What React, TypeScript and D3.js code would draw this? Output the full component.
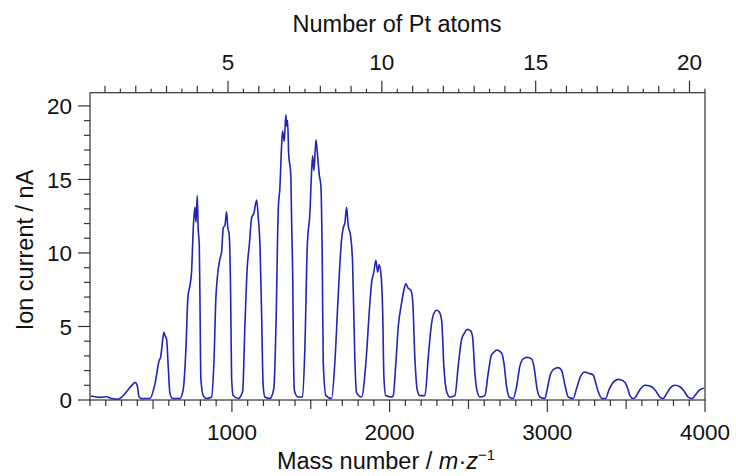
import React from 'react';
import * as d3 from 'd3';

const massTicks = [1000, 2000, 3000, 4000];
const currentTicks = [0, 5, 10, 15, 20];
const atomTicks = [5, 10, 15, 20];
const PT_MASS = 195.08;

// [mass number, ion current (nA)]
const spectrum: [number, number][] = [
  [104, 0.27], [163, 0.18], [205, 0.22], [237, 0.1], [279, 0.05], [301, 0.2], [342, 0.7], [374, 1.1],
  [385, 1.2], [399, 1.0], [412, 0.2], [427, 0.1], [480, 0.1], [512, 1.1], [539, 2.7], [548, 2.9],
  [561, 4.1], [569, 4.6], [575, 4.4], [586, 4.1], [596, 2.3], [607, 0.45], [624, 0.1], [670, 0.1],
  [691, 0.7], [708, 3.4], [721, 7.0], [734, 7.8], [744, 8.7], [755, 11.7], [765, 13.1], [772, 12.1],
  [780, 13.9], [786, 11.7], [793, 10.5], [797, 7.1], [803, 1.5], [818, 0.3], [840, 0.1], [871, 0.2],
  [886, 2.6], [899, 7.1], [924, 9.6], [935, 10.1], [945, 11.7], [956, 11.9], [966, 12.8], [973, 11.8],
  [983, 11.2], [992, 7.1], [998, 1.5], [1008, 0.3], [1040, 0.1], [1068, 0.6], [1082, 4.9], [1097, 9.0],
  [1110, 10.5], [1125, 12.4], [1139, 12.7], [1157, 13.6], [1167, 12.4], [1178, 10.5], [1188, 6.0],
  [1198, 1.0], [1209, 0.2], [1241, 0.1], [1266, 0.8], [1279, 4.9], [1294, 13.0], [1304, 14.4],
  [1315, 17.3], [1321, 18.3], [1332, 17.6], [1342, 19.4], [1349, 18.6], [1353, 19.0], [1360, 16.7],
  [1373, 15.4], [1379, 12.0], [1386, 8.0], [1391, 2.5], [1397, 0.6], [1420, 0.2], [1448, 0.2],
  [1463, 3.7], [1478, 10.5], [1495, 12.8], [1505, 15.5], [1512, 16.6], [1520, 15.6], [1533, 17.7],
  [1541, 16.9], [1554, 15.3], [1564, 14.6], [1573, 9.4], [1579, 2.6], [1596, 0.3], [1632, 0.1],
  [1653, 2.6], [1674, 7.1], [1696, 11.0], [1706, 11.7], [1717, 12.1], [1727, 13.1], [1737, 11.9],
  [1752, 11.2], [1765, 9.4], [1780, 2.6], [1790, 0.5], [1822, 0.2], [1850, 2.6], [1871, 6.0],
  [1886, 8.0], [1900, 8.7], [1913, 9.5], [1924, 8.7], [1934, 9.2], [1945, 8.6], [1956, 6.0],
  [1964, 1.5], [1976, 0.3], [2013, 0.2], [2023, 0.3], [2040, 2.6], [2055, 5.0], [2076, 6.6],
  [2091, 7.5], [2103, 7.9], [2118, 7.6], [2133, 7.5], [2146, 6.8], [2160, 2.9], [2175, 0.7],
  [2192, 0.3], [2224, 0.3], [2245, 2.9], [2266, 5.2], [2281, 5.9], [2298, 6.1], [2314, 6.0],
  [2330, 5.4], [2344, 2.3], [2361, 0.6], [2382, 0.2], [2414, 0.3], [2435, 2.3], [2456, 4.1],
  [2477, 4.6], [2492, 4.8], [2514, 4.7], [2526, 4.3], [2541, 1.8], [2555, 0.6], [2573, 0.2],
  [2604, 0.3], [2625, 1.8], [2647, 3.1], [2657, 3.2], [2679, 3.4], [2710, 3.2], [2725, 2.5],
  [2742, 0.9], [2759, 0.2], [2784, 0.1], [2805, 0.9], [2826, 2.3], [2847, 2.8], [2873, 2.9],
  [2900, 2.8], [2915, 2.3], [2936, 0.7], [2953, 0.2], [2985, 0.1], [2999, 0.7], [3016, 1.6],
  [3042, 2.1], [3069, 2.2], [3091, 2.0], [3112, 1.0], [3133, 0.2], [3164, 0.1], [3186, 0.8],
  [3211, 1.6], [3238, 1.9], [3266, 1.8], [3291, 1.7], [3306, 1.2], [3322, 0.6], [3348, 0.1],
  [3370, 0.1], [3391, 0.7], [3418, 1.2], [3450, 1.4], [3481, 1.3], [3503, 1.0], [3524, 0.3],
  [3545, 0.1], [3560, 0.2], [3587, 0.7], [3619, 1.0], [3651, 0.95], [3682, 0.7], [3714, 0.2],
  [3735, 0.1], [3750, 0.3], [3778, 0.8], [3809, 1.0], [3841, 0.9], [3868, 0.6], [3893, 0.2],
  [3919, 0.1], [3936, 0.3], [3968, 0.7], [3993, 0.8],
];

const FONT = 'Liberation Sans, Arial, Helvetica, sans-serif';
const AXIS = '#333';

export default function App() {
  const W = 736, H = 476;
  const left = 90, right = 705, top = 92.7, bottom = 400;
  const x = d3.scaleLinear().domain([100, 4000]).range([left, right]);
  const y = d3.scaleLinear().domain([0, 20.9]).range([bottom, top]);
  const line = d3.line<[number, number]>()
    .x(d => x(d[0]))
    .y(d => y(d[1]))
    .curve(d3.curveMonotoneX);

  const massMinor = d3.range(100, 4001, 100);
  const currentMinor = d3.range(0, 21, 1);
  const atomMinor = d3.range(1, 20.51, 0.5);

  return (
    <svg width={W} height={H} style={{ position: 'absolute', left: 0, top: 0, background: '#fff' }}
      fontFamily={FONT}>
      {/* frame */}
      <rect x={left} y={top} width={right - left} height={bottom - top} fill="none" stroke={AXIS} strokeWidth={1.2} />
      {/* spectrum */}
      <path d={line(spectrum) || ''} fill="none" stroke="#2323b4" strokeWidth={1.6} strokeLinejoin="round" />

      {/* bottom axis ticks */}
      {massMinor.map(v => {
        const len = v % 1000 === 0 ? 12 : v % 500 === 0 ? 9 : 6;
        return <line key={'bm' + v} x1={x(v)} x2={x(v)} y1={bottom} y2={bottom + len} stroke={AXIS} strokeWidth={1.2} />;
      })}
      {massTicks.map(v => (
        <text key={'bl' + v} x={x(v)} y={440} textAnchor="middle" fontSize={22.5} fill="#111">{v}</text>
      ))}

      {/* left axis ticks */}
      {currentMinor.map(v => {
        const len = v % 5 === 0 ? 12 : 6;
        return <line key={'lm' + v} x1={left - len} x2={left} y1={y(v)} y2={y(v)} stroke={AXIS} strokeWidth={1.2} />;
      })}
      {currentTicks.map(v => (
        <text key={'ll' + v} x={72} y={y(v)} dy="0.36em" textAnchor="end" fontSize={22.5} fill="#111">{v}</text>
      ))}

      {/* top axis ticks (Pt atoms) */}
      {atomMinor.map(n => {
        const len = n % 5 === 0 ? 12 : n % 1 === 0 ? 7 : 4;
        const px = x(n * PT_MASS);
        return <line key={'tm' + n} x1={px} x2={px} y1={top} y2={top - len} stroke={AXIS} strokeWidth={1.2} />;
      })}
      {atomTicks.map(n => (
        <text key={'tl' + n} x={x(n * PT_MASS)} y={70} textAnchor="middle" fontSize={22.5} fill="#111">{n}</text>
      ))}

      {/* titles */}
      <text x={397} y={32} textAnchor="middle" fontSize={23.5} fill="#111">Number of Pt atoms</text>
      <text x={386} y={469} textAnchor="middle" fontSize={23.5} fill="#111">
        Mass number / <tspan fontStyle="italic">m</tspan>·<tspan fontStyle="italic">z</tspan>
        <tspan dy={-9} fontSize={15}>−1</tspan>
      </text>
      <text transform={`translate(33,250) rotate(-90)`} textAnchor="middle" fontSize={23.5} fill="#111">Ion current / nA</text>
    </svg>
  );
}
